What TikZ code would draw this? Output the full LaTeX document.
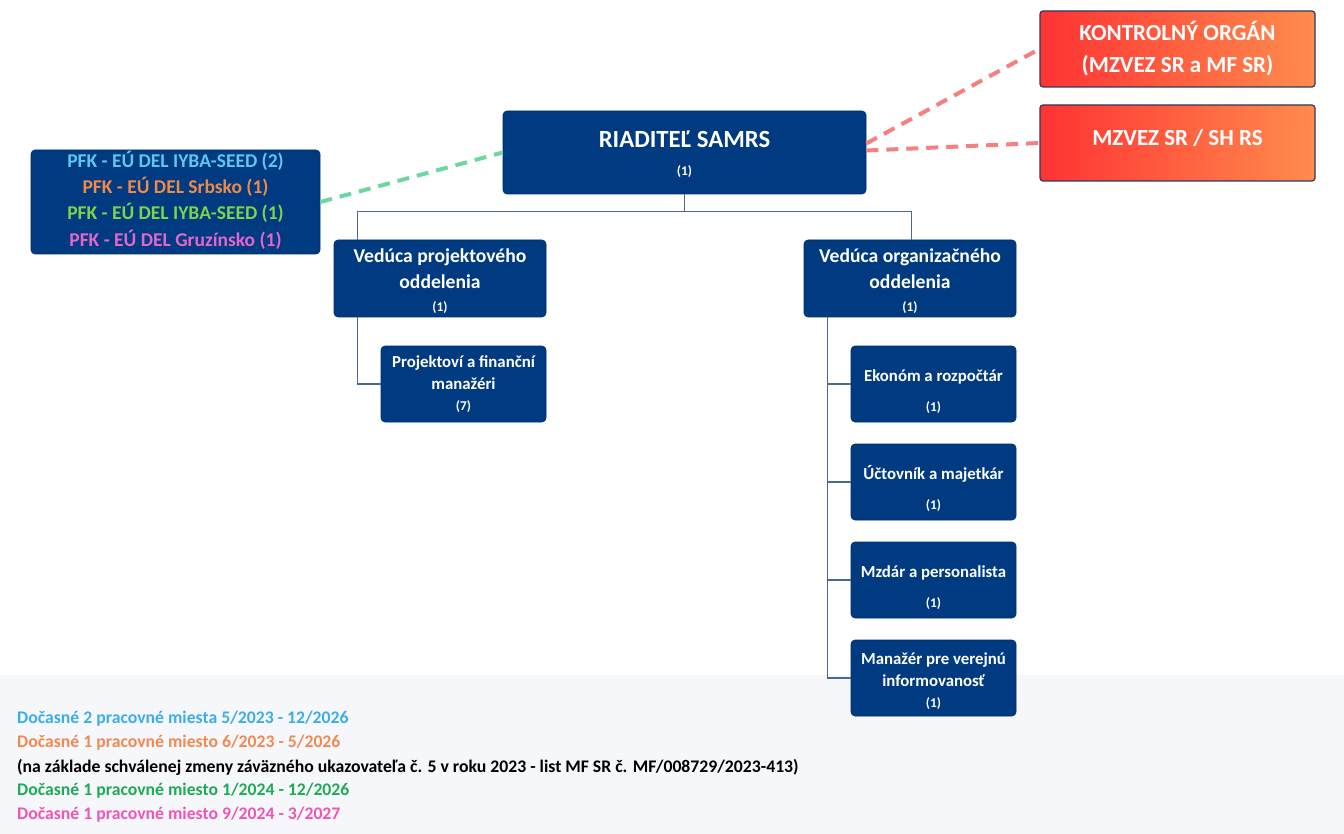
\documentclass[tikz,border=0pt]{standalone}
\usepackage{fontspec}
\setmainfont{Carlito}
\usetikzlibrary{calc}
\definecolor{navy}{HTML}{003A80}
\definecolor{connc}{HTML}{4A6890}
\definecolor{redborder}{HTML}{2E3A5C}
\definecolor{redl}{HTML}{FF3333}
\definecolor{redr}{HTML}{FF8C4D}
\definecolor{salmon}{HTML}{F48080}
\definecolor{greend}{HTML}{6FD6A0}
\definecolor{pa}{HTML}{5CC8F2}
\definecolor{pb}{HTML}{F08A4B}
\definecolor{pc}{HTML}{7CD34C}
\definecolor{pd}{HTML}{E466CC}
\definecolor{la}{HTML}{3BAEEA}
\definecolor{lb}{HTML}{F08A55}
\definecolor{ld}{HTML}{1FAA55}
\definecolor{le}{HTML}{F055B5}
\definecolor{band}{HTML}{F6F7FA}
\tikzset{
  navybox/.style={fill=navy, draw=navy!80!black, line width=0.6pt, rounded corners=4pt, text=white, align=center, font=\bfseries, inner sep=0pt},
  redbox/.style={left color=redl, right color=redr, draw=redborder, line width=1.2pt, rounded corners=3pt, text=white, align=center, font=\bfseries\fontsize{23}{32}\selectfont, inner sep=0pt, minimum width=275pt, minimum height=76pt},
  conn/.style={draw=connc, line width=1.4pt},
  reddash/.style={draw=salmon, line width=4pt, dash pattern=on 12pt off 8pt},
  greendash/.style={draw=greend, line width=4pt, dash pattern=on 12pt off 8pt},
  legend/.style={anchor=west, inner sep=0pt, font=\bfseries\fontsize{17.7}{20}\selectfont},
  child/.style={navybox, minimum width=165pt, minimum height=76pt, font=\bfseries\fontsize{16.8}{22}\selectfont}
}
\newcommand{\smallnum}[1]{{\fontsize{13.4}{15}\selectfont #1}}
\newcommand{\pushdown}[1]{\rule{0pt}{#1}}
\newcommand{\pushup}[1]{\rule[-#1]{0pt}{1pt}}
\begin{document}
\begin{tikzpicture}[x=1pt,y=-1pt]
\useasboundingbox (0,0) rectangle (1344,834);
\fill[white] (0,0) rectangle (1344,834);
\fill[band] (0,675) rectangle (1344,834);

% director
\node[navybox, minimum width=363pt, minimum height=83pt, font=\bfseries\fontsize{24.7}{31}\selectfont] (dir) at (684.5,152.5)
  {\pushdown{19.5pt}RIADITEĽ SAMRS\\[-3pt] \smallnum{(1)}};

% PFK box
\node[navybox, minimum width=289pt, minimum height=104pt, font=\bfseries\fontsize{19.5}{26.4}\selectfont] (pfk) at (175.5,202)
  {\textcolor{pa}{PFK - EÚ DEL IYBA-SEED (2)}\\ \textcolor{pb}{PFK - EÚ DEL Srbsko (1)}\\ \textcolor{pc}{PFK - EÚ DEL IYBA-SEED (1)}\\ \textcolor{pd}{PFK - EÚ DEL Gruzínsko (1)}\pushup{7pt}};

% red boxes
\node[redbox] (kon) at (1177.5,49) {KONTROLNÝ ORGÁN\\(MZVEZ SR a MF SR)};
\node[redbox] (mzv) at (1177.5,143) {MZVEZ SR / SH RS\pushup{12pt}};

% department heads
\node[navybox, minimum width=212pt, minimum height=77pt, font=\bfseries\fontsize{19.6}{26}\selectfont] (vp) at (440,278.5)
  {\pushdown{20pt}Vedúca projektového\\ oddelenia\\[-3pt] \smallnum{(1)}};
\node[navybox, minimum width=212pt, minimum height=77pt, font=\bfseries\fontsize{19.6}{26}\selectfont] (vo) at (910,278.5)
  {\pushdown{20pt}Vedúca organizačného\\ oddelenia\\[-3pt] \smallnum{(1)}};

% children
\node[child] (pm) at (463.5,384) {Projektoví a finanční\\ manažéri\\[-1pt] \smallnum{(7)}};
\node[child] (ek) at (933.5,384) {\pushdown{28pt}Ekonóm a rozpočtár\\[8pt] \smallnum{(1)}};
\node[child] (uc) at (933.5,482) {\pushdown{28pt}Účtovník a majetkár\\[8pt] \smallnum{(1)}};
\node[child] (mz) at (933.5,580) {\pushdown{28pt}Mzdár a personalista\\[8pt] \smallnum{(1)}};
\node[child] (ma) at (933.5,678) {\pushdown{18pt}Manažér pre verejnú\\ informovanosť\\[-1pt] \smallnum{(1)}};

% tree connectors
\coordinate (junc) at ($(dir.south)+(0,17)$);
\draw[conn] (dir.south) -- (junc);
\draw[conn] (junc) -| ($(vp.north west)+(24,0)$);
\draw[conn] (junc) -| ($(vo.north west)+(108,0)$);
\draw[conn] ($(vp.south west)+(24,0)$) |- (pm.west);
\coordinate (vtrunk) at ($(vo.south west)+(24,0)$);
\draw[conn] (vtrunk) |- (ma.west);
\draw[conn] (vtrunk |- ek.west) -- (ek.west);
\draw[conn] (vtrunk |- uc.west) -- (uc.west);
\draw[conn] (vtrunk |- mz.west) -- (mz.west);

% dashed links
\draw[greendash] (pfk.east) -- (dir.west);
\draw[reddash] ([yshift=9pt]dir.east) -- (kon.west);
\draw[reddash] ([yshift=2pt]dir.east) -- (mzv.west);

% legend
\node[legend, text=la] (l1) at (17,719) {Dočasné 2 pracovné miesta 5/2023 - 12/2026};
\node[legend, text=lb] (l2) at (17,743) {Dočasné 1 pracovné miesto 6/2023 - 5/2026};
\node[legend, text=black] (l3) at (17,767) {(na základe schválenej zmeny záväzného ukazovateľa č. 5 v roku 2023 - list MF SR č. MF/008729/2023-413)};
\node[legend, text=ld] (l4) at (17,791) {Dočasné 1 pracovné miesto 1/2024 - 12/2026};
\node[legend, text=le] (l5) at (17,815) {Dočasné 1 pracovné miesto 9/2024 - 3/2027};
\end{tikzpicture}
\end{document}
